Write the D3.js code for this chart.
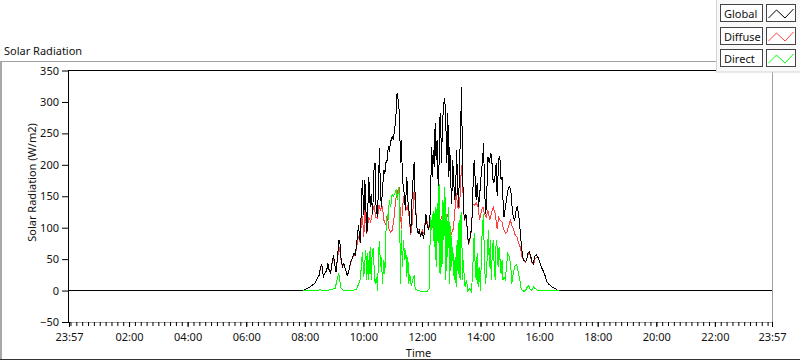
<!DOCTYPE html>
<html><head><meta charset="utf-8">
<script src="https://cdn.jsdelivr.net/npm/d3@7"></script>
<style>
body{margin:0;background:#fff}
svg{display:block}
text{font-family:"Noto Sans",sans-serif;font-size:11px;fill:#111}
</style></head>
<body><svg id="c" width="800" height="361"></svg>
<script>
// ---- data (time in minutes after 00:00, value in W/m2) ----
const xTickMinutes = [-3, 120, 240, 360, 480, 600, 720, 840, 960, 1080, 1200, 1320, 1437];
const xTickLabels = ["23:57","02:00","04:00","06:00","08:00","10:00","12:00","14:00","16:00","18:00","20:00","22:00","23:57"];
const yTicks = [-50, 0, 50, 100, 150, 200, 250, 300, 350];
const seriesNames = ["Global", "Diffuse", "Direct"];
const seriesColors = ["#000000", "#ff4040", "#00ff00"];

const globalSeries = [[-3,0],[477,0],[484,3],[491,6],[501,12],[504,17],[510,25],[512,38],[515,41],[518,22],[521,27],[525,32],[527,44],[530,32],[533,28],[536,46],[539,56],[542,38],[544,30],[547,53],[550,80],[552,75],[554,53],[557,38],[560,43],[564,32],[567,24],[570,30],[574,46],[578,53],[581,60],[583,56],[586,72],[590,104],[592,86],[594,75],[596,144],[598,176],[601,120],[603,176],[607,91],[608,98],[611,181],[614,133],[616,154],[619,122],[622,197],[624,203],[626,133],[629,117],[631,171],[633,227],[635,154],[637,133],[639,160],[642,192],[644,186],[646,203],[649,208],[651,229],[653,221],[656,237],[659,245],[661,240],[664,255],[667,282],[669,314],[672,299],[674,277],[676,203],[678,240],[680,176],[683,160],[686,128],[689,181],[691,144],[694,122],[697,91],[700,154],[704,205],[706,150],[709,102],[712,91],[715,96],[717,85],[720,93],[723,85],[725,91],[728,122],[731,102],[734,97],[738,133],[739,229],[741,181],[743,224],[745,197],[747,266],[749,208],[751,240],[754,138],[756,271],[758,282],[760,203],[762,266],[764,290],[766,306],[768,292],[771,203],[773,282],[775,181],[777,229],[779,171],[781,138],[783,208],[785,176],[787,144],[789,160],[791,224],[793,165],[795,133],[797,203],[799,250],[801,324],[803,203],[805,133],[807,112],[810,122],[813,97],[815,75],[817,80],[819,85],[821,97],[823,122],[825,176],[827,208],[829,176],[831,144],[833,171],[836,133],[839,160],[842,192],[844,203],[846,234],[848,176],[850,122],[852,133],[855,213],[858,203],[861,219],[863,208],[866,171],[869,176],[872,203],[874,150],[876,186],[878,213],[880,208],[882,176],[884,181],[886,144],[888,117],[891,133],[893,144],[896,160],[899,165],[902,160],[904,138],[907,117],[910,112],[913,128],[915,133],[918,122],[921,96],[924,70],[926,54],[929,48],[932,46],[934,48],[937,59],[940,62],[943,54],[945,46],[948,43],[951,54],[954,57],[956,54],[959,51],[962,43],[966,35],[969,30],[973,22],[976,14],[980,10],[983,8],[986,6],[990,4],[993,3],[997,1],[1000,0],[1437,0]];

const diffuseSeries = [[477,0],[484,3],[491,6],[501,12],[504,17],[510,25],[512,36],[515,41],[518,22],[521,27],[525,32],[527,42],[530,32],[533,28],[536,44],[539,50],[542,38],[544,30],[547,50],[550,70],[552,62],[554,50],[557,38],[560,42],[564,32],[567,24],[570,30],[574,45],[578,52],[581,58],[583,55],[586,68],[590,86],[592,80],[594,75],[596,117],[598,117],[601,86],[603,133],[607,90],[611,117],[615,109],[618,122],[622,136],[625,117],[629,115],[632,136],[635,128],[639,133],[642,112],[646,104],[649,122],[652,98],[656,93],[659,96],[663,117],[666,144],[670,157],[673,165],[675,133],[678,98],[680,133],[683,150],[687,128],[690,133],[693,122],[697,88],[700,107],[704,160],[707,133],[710,98],[714,96],[717,90],[721,96],[724,90],[728,120],[732,104],[736,100],[739,112],[743,98],[746,104],[749,101],[753,98],[756,104],[760,117],[763,122],[766,133],[770,112],[773,122],[777,98],[780,90],[784,98],[787,122],[790,155],[794,130],[797,133],[801,200],[803,181],[805,133],[807,110],[810,120],[813,95],[815,73],[817,78],[819,83],[821,95],[824,138],[828,136],[831,140],[835,133],[838,112],[842,128],[845,133],[848,122],[852,117],[855,128],[859,112],[862,122],[866,133],[870,122],[874,98],[877,117],[880,112],[884,109],[887,98],[891,91],[894,93],[898,104],[901,112],[904,104],[908,96],[911,88],[915,85],[918,75],[921,70],[925,54],[928,48],[932,45],[935,52],[939,60],[942,55],[945,45],[949,42],[952,51],[956,53],[959,51],[962,43],[966,35],[969,30],[973,22],[976,14],[980,10],[983,8],[986,6],[990,4],[993,3],[997,1],[1000,0]];

const directSeries = [[477,0],[497,0],[511,1],[525,0],[535,2],[542,3],[547,20],[549,26],[551,24],[553,5],[558,1],[566,0],[576,0],[586,2],[590,10],[593,16],[596,38],[598,62],[601,22],[603,46],[605,64],[607,17],[609,59],[611,17],[614,70],[616,17],[618,59],[620,67],[622,38],[624,11],[627,22],[629,0],[631,59],[633,78],[635,38],[637,54],[639,11],[642,48],[644,27],[646,91],[649,122],[651,112],[653,144],[656,133],[659,154],[661,149],[664,154],[667,160],[670,144],[672,165],[674,144],[676,11],[678,96],[680,38],[682,80],[685,48],[687,64],[689,22],[691,54],[693,11],[695,27],[698,8],[701,16],[704,24],[706,3],[710,1],[717,-1],[724,-2],[731,-1],[735,3],[736,59],[738,117],[740,96],[743,126],[745,70],[747,133],[749,38],[751,140],[753,75],[755,170],[757,27],[759,112],[761,38],[763,144],[765,80],[767,165],[769,17],[771,122],[773,54],[775,133],[777,11],[779,102],[781,38],[783,70],[786,17],[788,54],[790,6],[792,80],[794,27],[796,112],[798,17],[800,122],[801,124],[803,17],[805,48],[807,11],[809,6],[811,17],[814,0],[818,3],[821,-1],[823,17],[825,54],[827,91],[829,38],[831,17],[833,59],[835,6],[837,38],[840,0],[842,70],[844,102],[846,122],[848,48],[850,11],[852,27],[854,59],[856,96],[858,38],[860,80],[862,17],[864,59],[866,80],[867,54],[870,17],[872,80],[874,70],[876,38],[878,70],[880,48],[882,27],[884,48],[886,17],[888,22],[891,17],[893,38],[896,59],[899,54],[902,38],[904,11],[907,27],[910,38],[913,41],[915,38],[918,27],[921,14],[923,3],[926,0],[929,-1],[932,0],[936,6],[939,8],[941,3],[944,0],[947,3],[949,6],[952,3],[956,1],[959,0],[1000,0]];

const minorTicks = d3.range(0, 1437, 12);

// ---- drawing ----
const svg = d3.select("#c");
const x = d3.scaleLinear().domain([-3, 1437]).range([69, 772]);
const y = d3.scaleLinear().domain([-50, 350]).range([322, 70.5]);

// outer panel
svg.append("line").attr("x1",0).attr("x2",717).attr("y1",61.5).attr("y2",61.5).attr("stroke","#a0a0a0");
svg.append("line").attr("x1",1).attr("x2",1).attr("y1",61).attr("y2",360).attr("stroke","#a8a8a8").attr("stroke-width",2);
svg.append("line").attr("x1",0).attr("x2",800).attr("y1",359.5).attr("y2",359.5).attr("stroke","#333");

// title
svg.append("text").attr("x",4).attr("y",54.5).text("Solar Radiation");

// plot frame
svg.append("line").attr("x1",68).attr("x2",773).attr("y1",70.5).attr("y2",70.5).attr("stroke","#000");
svg.append("line").attr("x1",68.5).attr("x2",68.5).attr("y1",70).attr("y2",323).attr("stroke","#000");
svg.append("line").attr("x1",772.5).attr("x2",772.5).attr("y1",71).attr("y2",323).attr("stroke","#a0a0a0");
svg.append("line").attr("x1",69).attr("x2",773).attr("y1",322.5).attr("y2",322.5).attr("stroke","#a0a0a0");

// y axis
const gy = svg.append("g").attr("transform","translate(68,0)")
  .call(d3.axisLeft(y).tickValues(yTicks).tickSize(6).tickPadding(3));
gy.select(".domain").remove();
gy.selectAll("text").style("font-family",'"Noto Sans",sans-serif').style("font-size","11px").attr("fill","#111");

// x axis
const gx = svg.append("g").attr("transform","translate(0,322)")
  .call(d3.axisBottom(x).tickValues(xTickMinutes).tickSize(5).tickPadding(6)
    .tickFormat((d,i)=>xTickLabels[i]));
gx.select(".domain").remove();
gx.selectAll("text").style("font-family",'"Noto Sans",sans-serif').style("font-size","11px").attr("fill","#111");
const gm = svg.append("g").attr("transform","translate(0,322)")
  .call(d3.axisBottom(x).tickValues(minorTicks).tickSize(4).tickFormat(""));
gm.select(".domain").remove();

// axis titles
svg.append("text").attr("x",418.5).attr("y",357).attr("text-anchor","middle").text("Time");
svg.append("text").attr("transform","translate(35.5,182.5) rotate(-90)").attr("text-anchor","middle").text("Solar Radiation (W/m2)");

// series
const line = d3.line().x(d=>x(d[0])).y(d=>y(d[1]));
const plotG = svg.append("g");
[[diffuseSeries,1],[globalSeries,0],[directSeries,2]].forEach(([data,i])=>{
  plotG.append("path").datum(data).attr("d",line)
    .attr("fill","none").attr("stroke",seriesColors[i]).attr("stroke-width",1)
    .attr("shape-rendering","crispEdges");
});

// legend
svg.append("rect").attr("x",716.5).attr("y",-0.5).attr("width",84).attr("height",72.5)
  .attr("fill","#f9f9f9").attr("stroke","#d4d4d4");
seriesNames.forEach((name,i)=>{
  const top = Math.round(4 + i*22.7);
  svg.append("rect").attr("x",720.5).attr("y",top+0.5).attr("width",42).attr("height",17)
    .attr("fill","#fff").attr("stroke","#444");
  svg.append("text").attr("x",724).attr("y",top+13.5).text(name);
  svg.append("rect").attr("x",766.5).attr("y",top+0.5).attr("width",29).attr("height",17)
    .attr("fill","#fff").attr("stroke","#444");
  svg.append("polyline")
    .attr("points",[[768.5,top+14],[776.5,top+6],[785,top+14],[793.5,top+5]].map(p=>p.join(",")).join(" "))
    .attr("fill","none").attr("stroke",seriesColors[i]).attr("stroke-width",1);
});
</script></body></html>
